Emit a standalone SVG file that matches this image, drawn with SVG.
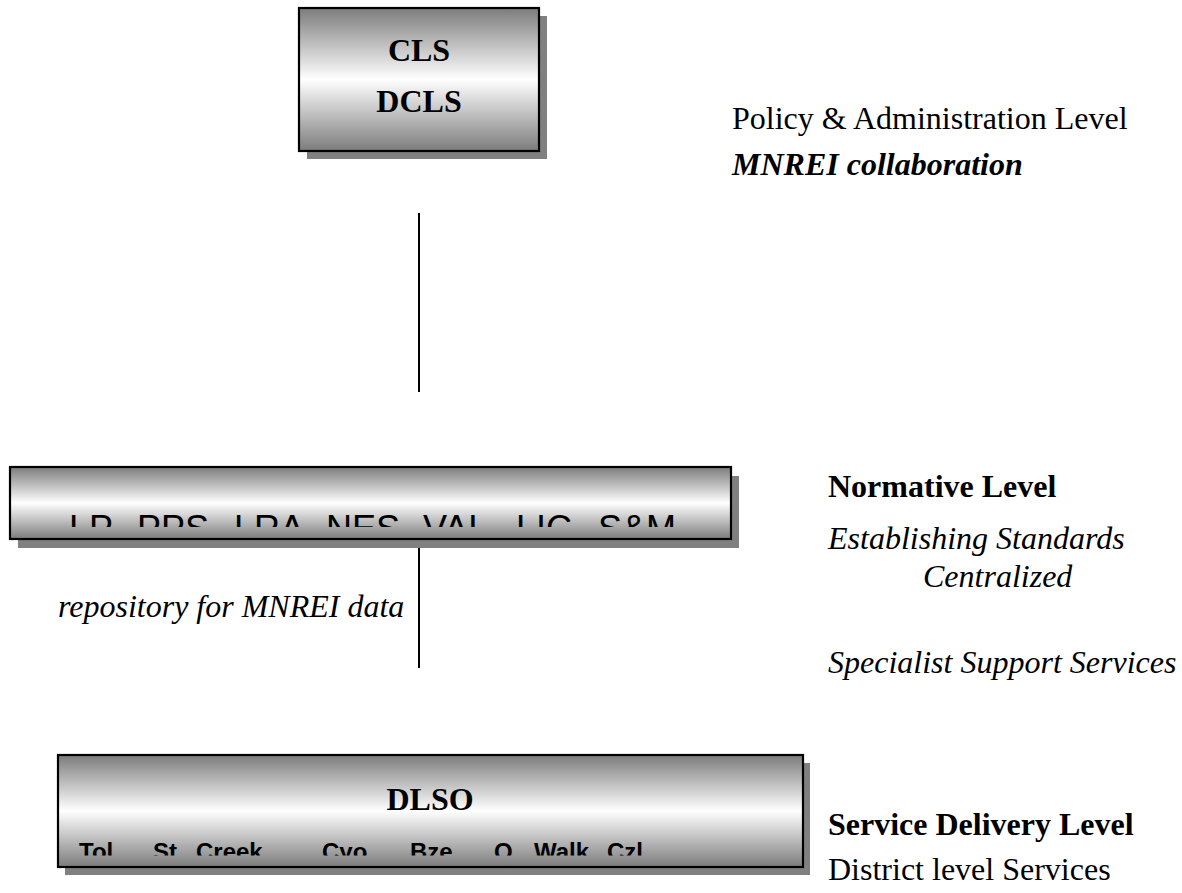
<svg xmlns="http://www.w3.org/2000/svg" width="1182" height="893" viewBox="0 0 1182 893">
<style>
.box{stroke:#000;stroke-width:2.2;fill:url(#g)}
.sh{fill:#808080}
.ser{font-family:"Liberation Serif","Times New Roman",serif;font-size:32px;fill:#000}
.b{font-weight:bold}
.i{font-style:italic}
.sans{font-family:"Liberation Sans",Arial,sans-serif;fill:#000}
.ln{stroke:#000;stroke-width:2;fill:none}
</style>
<defs>
<linearGradient id="g" x1="0" y1="0" x2="0" y2="1">
<stop offset="0" stop-color="#7c7c7c"/>
<stop offset="0.5" stop-color="#ffffff"/>
<stop offset="1" stop-color="#7c7c7c"/>
</linearGradient>
<clipPath id="c1"><rect x="12" y="469" width="717" height="58"/></clipPath>
<clipPath id="c2"><rect x="60" y="757" width="741" height="98.5"/></clipPath>
</defs>
<rect width="1182" height="893" fill="#fff"/>
<g id="connectors">
<line class="ln" x1="419" y1="213" x2="419" y2="392"/>
<line class="ln" x1="419" y1="548" x2="419" y2="668"/>
</g>
<g id="cls">
<rect class="sh" x="307" y="16" width="240" height="143"/>
<rect class="box" x="299" y="8" width="240" height="143"/>
<text class="ser b" x="419" y="61" text-anchor="middle">CLS</text>
<text class="ser b" x="419" y="112" text-anchor="middle">DCLS</text>
</g>
<g id="normative">
<rect class="sh" x="18" y="476" width="721" height="72"/>
<rect class="box" x="10" y="467" width="721" height="72"/>
<g clip-path="url(#c1)" class="sans" font-size="36">
<text x="69" y="541">LP</text>
<text x="137" y="541">PPS</text>
<text x="234" y="541">LRA</text>
<text x="326" y="541">NES</text>
<text x="423" y="541">VAL</text>
<text x="516" y="541">LIC</text>
<text x="598" y="541">S&amp;M</text>
</g>
</g>
<g id="dlso">
<rect class="sh" x="65" y="763" width="745" height="112"/>
<rect class="box" x="58" y="755" width="745" height="112"/>
<text class="ser b" x="430" y="810" text-anchor="middle">DLSO</text>
<g clip-path="url(#c2)" class="sans" font-size="24" font-weight="bold">
<text x="79" y="860">Tol</text>
<text x="153" y="860">St</text>
<text x="196" y="860">Creek</text>
<text x="322" y="860">Cyo</text>
<text x="410" y="860">Bze</text>
<text x="494" y="860">O.</text>
<text x="534" y="860">Walk</text>
<text x="607" y="860">Czl</text>
</g>
</g>
<g id="labels">
<text class="ser" x="732" y="129">Policy &amp; Administration Level</text>
<text class="ser b i" x="732" y="175">MNREI collaboration</text>
<text class="ser b" x="828" y="497">Normative Level</text>
<text class="ser i" x="828" y="549">Establishing Standards</text>
<text class="ser i" x="923" y="587">Centralized</text>
<text class="ser i" x="58" y="617">repository for MNREI data</text>
<text class="ser i" x="828" y="673">Specialist Support Services</text>
<text class="ser b" x="828" y="835">Service Delivery Level</text>
<text class="ser" x="828" y="880">District level Services</text>
</g>
</svg>
